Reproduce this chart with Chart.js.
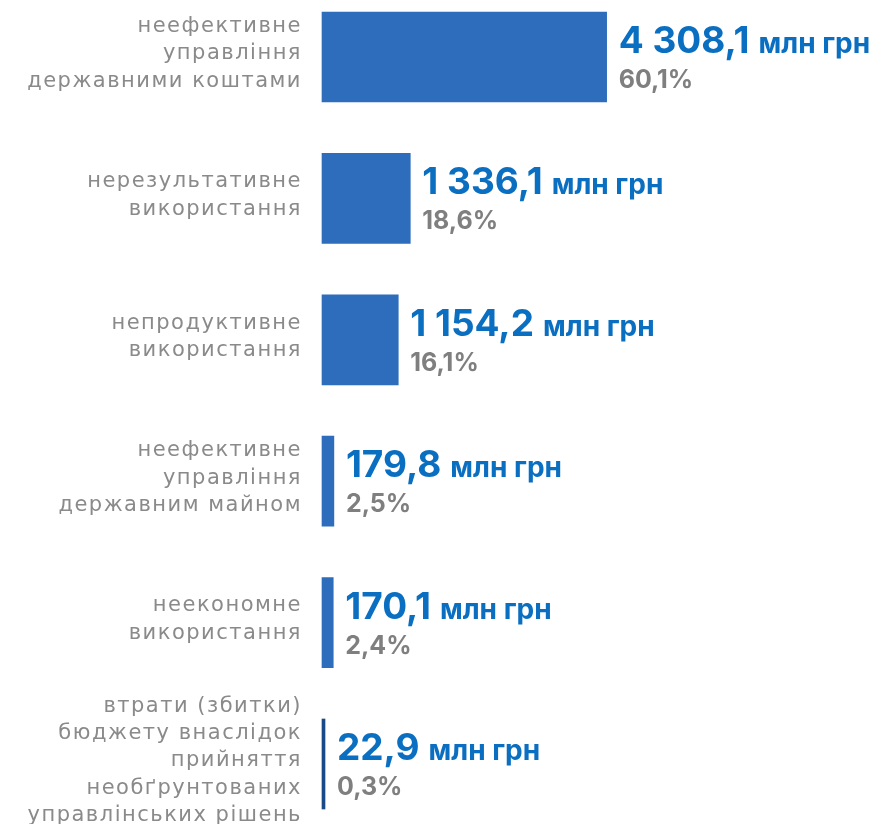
<!DOCTYPE html>
<html>
<head>
<meta charset="utf-8">
<script src="https://cdn.jsdelivr.net/npm/chart.js@4"></script>
<style>
  body { margin: 0; background: #fff; }
  #wrap { width: 877px; height: 824px; }
</style>
</head>
<body>
<div id="wrap"><canvas id="lossChart" width="877" height="824"></canvas></div>
<script>
var categories = [
    ["неефективне", "управління", "державними коштами"],
    ["нерезультативне", "використання"],
    ["непродуктивне", "використання"],
    ["неефективне", "управління", "державним майном"],
    ["неекономне", "використання"],
    ["втрати (збитки)", "бюджету внаслідок", "прийняття", "необґрунтованих", "управлінських рішень"]
];
var amounts = [4308.1, 1336.1, 1154.2, 179.8, 170.1, 22.9];
var shares = [60.1, 18.6, 16.1, 2.5, 2.4, 0.3];
var barColors = ['#2d6dbb', '#2d6dbb', '#2d6dbb', '#2d6dbb', '#2d6dbb', '#174a86'];

var labelFont = 'DejaVu Sans, sans-serif';
var valueFont = 'Inter, sans-serif';

function fmt(v) {
    var parts = v.toFixed(1).split('.');
    parts[0] = parts[0].replace(/\B(?=(\d{3})+(?!\d))/g, ' ');
    return parts.join(',');
}

// wider tracking for the category names (the original font is much wider)
var tracking = {
    id: 'tracking',
    beforeDraw: function (chart) { chart.ctx.letterSpacing = '1.5px'; },
    beforeDatasetsDraw: function (chart) { chart.ctx.letterSpacing = '0px'; }
};

var valueLabels = {
    id: 'valueLabels',
    afterDatasetsDraw: function (chart) {
        var ctx = chart.ctx;
        var meta = chart.getDatasetMeta(0);
        ctx.save();
        ctx.letterSpacing = '0px';
        ctx.textBaseline = 'alphabetic';
        ctx.textAlign = 'left';
        meta.data.forEach(function (bar, i) {
            var x = bar.x + 12;
            var y = bar.y;
            var num = fmt(amounts[i]);
            ctx.font = 'bold 37px ' + valueFont;
            ctx.fillStyle = '#0b6fc1';
            ctx.fillText(num, x, y - 4);
            var w = ctx.measureText(num).width;
            ctx.font = 'bold 28px ' + valueFont;
            ctx.fillText('млн грн', x + w + 9, y - 4);
            ctx.font = 'bold 25px ' + valueFont;
            ctx.fillStyle = '#7f7f7f';
            ctx.fillText(fmt(shares[i]) + '%', x, y + 31);
        });
        ctx.restore();
    }
};

new Chart(document.getElementById('lossChart'), {
    type: 'bar',
    data: {
        labels: categories,
        datasets: [{
            data: amounts,
            backgroundColor: barColors,
            borderWidth: 0,
            barThickness: 90,
            minBarLength: 3,
            clip: false
        }]
    },
    options: {
        indexAxis: 'y',
        responsive: false,
        animation: false,
        layout: { padding: { top: 57, bottom: 60, left: 0, right: 0 } },
        plugins: {
            legend: { display: false },
            tooltip: { enabled: false }
        },
        scales: {
            x: {
                display: false,
                min: 0,
                max: 8400
            },
            y: {
                offset: false,
                grid: { display: false, drawTicks: false },
                border: { display: false },
                ticks: {
                    autoSkip: false,
                    padding: 20,
                    labelOffset: -3,
                    color: '#8a8a8a',
                    font: { family: labelFont, size: 21, lineHeight: 1.3 }
                },
                afterFit: function (scale) {
                    scale.width = 322;
                    scale.paddingTop = 0;
                    scale.paddingBottom = 0;
                }
            }
        }
    },
    plugins: [tracking, valueLabels]
});
</script>
</body>
</html>
